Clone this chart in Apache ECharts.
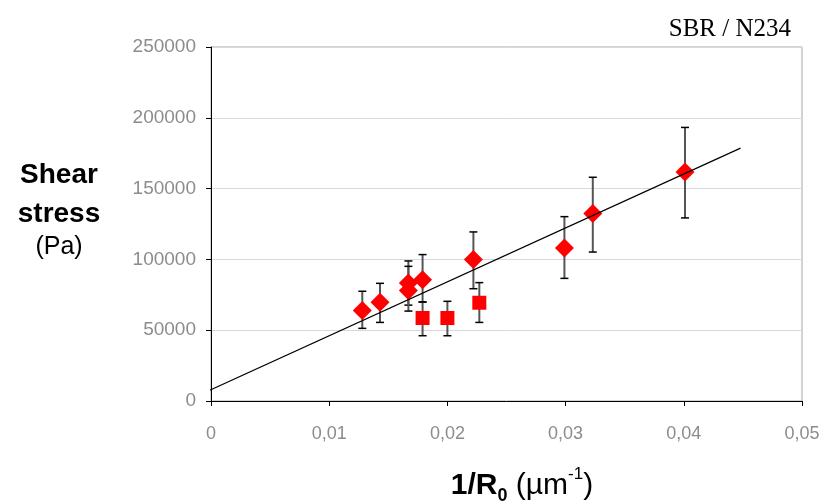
<!DOCTYPE html>
<html>
<head>
<meta charset="utf-8">
<script src="https://cdn.jsdelivr.net/npm/echarts@6/dist/echarts.min.js"></script>
<style>
html,body{margin:0;padding:0;background:#fff;}
#chart{width:827px;height:502px;}
</style>
</head>
<body>
<div id="chart"></div>
<script>
// Diamond series (1/R0 in µm^-1, shear stress in Pa)
const diamondX = [0.0128, 0.0143, 0.0167, 0.0167, 0.0179, 0.0222, 0.0299, 0.0323, 0.0401];
const diamondY = [64000, 69700, 83300, 78100, 85700, 99900, 108000, 132400, 161800];
const diamondLow = [51300, 55500, 67700, 63500, 69900, 79300, 86600, 105200, 129300];
const diamondHigh = [77500, 83100, 98900, 95100, 103400, 119400, 130200, 158000, 193200];

// Square series
const squareX = [0.0179, 0.0200, 0.0227];
const squareY = [58600, 58600, 69400];
const squareLow = [46100, 46100, 55500];
const squareHigh = [69900, 70400, 83600];

// Linear fit line endpoints
const fitX = [-0.0007, 0.0448];
const fitY = [5400, 178600];

// Axis settings
const xMin = 0, xMax = 0.05, xStep = 0.01;
const yMin = 0, yMax = 250000, yStep = 50000;

const chart = echarts.init(document.getElementById('chart'), null, {renderer: 'canvas'});

const errData = [];
diamondX.forEach((x, i) => errData.push([x, diamondLow[i], diamondHigh[i]]));
squareX.forEach((x, i) => errData.push([x, squareLow[i], squareHigh[i]]));

const labelColor = '#8c8c8c';
const sans = 'Liberation Sans, Arial, sans-serif';

const option = {
  backgroundColor: '#ffffff',
  animation: false,
  grid: {
    left: 211, right: 25, top: 47, bottom: 101,
    show: true, borderColor: '#a6a6a6', borderWidth: 1, backgroundColor: 'transparent'
  },
  title: [
    {
      text: 'SBR / N234', right: 31, top: 12,
      textStyle: {fontFamily: 'Liberation Serif, Times New Roman, serif', fontSize: 25, fontWeight: 'normal', color: '#000'}
    },
    {
      text: '{b|Shear}\n{b|stress}\n{n|(Pa)}', left: 54, top: 151, textAlign: 'center',
      textStyle: {
        rich: {
          b: {fontFamily: sans, fontSize: 28, fontWeight: 'bold', color: '#000', lineHeight: 39, align: 'center'},
          n: {fontFamily: sans, fontSize: 25, fontWeight: 'normal', color: '#000', lineHeight: 26, align: 'center'}
        }
      }
    },
    {
      text: '{b|1/R}{s|0}{n| (µm}{p|-1}{n|)}', left: 517, top: 460, textAlign: 'center',
      textStyle: {
        rich: {
          b: {fontFamily: sans, fontSize: 30, fontWeight: 'bold', color: '#000', lineHeight: 36, verticalAlign: 'bottom'},
          s: {fontFamily: sans, fontSize: 18, fontWeight: 'bold', color: '#000', lineHeight: 36, verticalAlign: 'bottom', padding: [0, 0, -4, 0]},
          n: {fontFamily: sans, fontSize: 30, fontWeight: 'normal', color: '#000', lineHeight: 36, verticalAlign: 'bottom'},
          p: {fontFamily: sans, fontSize: 17, fontWeight: 'normal', color: '#000', lineHeight: 36, verticalAlign: 'top', padding: [1, 0, 0, 0]}
        }
      }
    }
  ],
  xAxis: {
    type: 'value', min: xMin, max: xMax, interval: xStep,
    axisLine: {show: true, onZero: false, lineStyle: {color: '#000', width: 1}},
    axisTick: {show: true, length: 5, inside: false, lineStyle: {color: '#000'}},
    splitLine: {show: false},
    axisLabel: {
      color: labelColor, fontFamily: sans, fontSize: 18, margin: 24,
      formatter: v => (v === 0 ? '0' : v.toFixed(2).replace('.', ','))
    }
  },
  yAxis: {
    type: 'value', min: yMin, max: yMax, interval: yStep,
    axisLine: {show: true, onZero: false, lineStyle: {color: '#000', width: 1}},
    axisTick: {show: true, length: 5, inside: false, lineStyle: {color: '#000'}},
    splitLine: {show: true, lineStyle: {color: '#d9d9d9', width: 1}},
    axisLabel: {color: labelColor, fontFamily: sans, fontSize: 19, margin: 15, formatter: v => String(v)}
  },
  series: [
    {
      type: 'custom', z: 2, silent: true,
      data: errData,
      renderItem: (params, api) => {
        const x = api.value(0);
        const lo = api.coord([x, api.value(1)]);
        const hi = api.coord([x, api.value(2)]);
        const cw = 4;
        return {
          type: 'group',
          children: [
            {type: 'line', shape: {x1: lo[0], y1: lo[1], x2: hi[0], y2: hi[1]}, style: {stroke: '#555', lineWidth: 2}},
            {type: 'line', shape: {x1: lo[0] - cw, y1: lo[1], x2: lo[0] + cw, y2: lo[1]}, style: {stroke: '#000', lineWidth: 1.5}},
            {type: 'line', shape: {x1: hi[0] - cw, y1: hi[1], x2: hi[0] + cw, y2: hi[1]}, style: {stroke: '#000', lineWidth: 1.5}}
          ]
        };
      }
    },
    {
      type: 'scatter', z: 3, symbol: 'diamond', symbolSize: [19, 19],
      itemStyle: {color: '#ff0000', opacity: 1},
      data: diamondX.map((x, i) => [x, diamondY[i]])
    },
    {
      type: 'scatter', z: 3, symbol: 'rect', symbolSize: [14, 14],
      itemStyle: {color: '#ff0000', opacity: 1},
      data: squareX.map((x, i) => [x, squareY[i]])
    },
    {
      type: 'line', z: 4, clip: false, silent: true, showSymbol: false, symbol: 'none',
      lineStyle: {color: '#000', width: 1.2},
      data: fitX.map((x, i) => [x, fitY[i]])
    }
  ]
};
chart.setOption(option);
</script>
</body>
</html>
